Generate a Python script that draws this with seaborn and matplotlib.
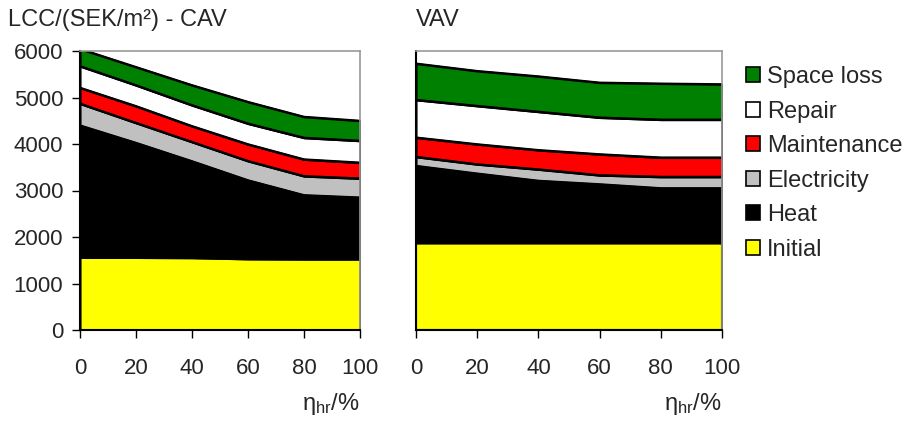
import numpy as np
import pandas as pd
import matplotlib
matplotlib.use("Agg")
import matplotlib.pyplot as plt
import seaborn as sns
from matplotlib.patches import Patch

# ---- data ----
eta = [0, 20, 40, 60, 80, 100]
layers = ["Initial", "Heat", "Electricity", "Maintenance", "Repair", "Space loss"]
colors = ["#ffff00", "#000000", "#c0c0c0", "#ff0000", "#ffffff", "#008000"]

cav_initial = [1560, 1560, 1555, 1530, 1525, 1525]
cav_heat = [2840, 2465, 2075, 1690, 1375, 1325]
cav_elec = [470, 430, 415, 415, 410, 410]
cav_maint = [340, 360, 340, 360, 360, 340]
cav_repair = [465, 450, 450, 445, 465, 470]
cav_space = [370, 390, 430, 465, 450, 430]

vav_initial = [1870, 1870, 1870, 1870, 1870, 1870]
vav_heat = [1660, 1495, 1340, 1265, 1180, 1180]
vav_elec = [195, 200, 245, 195, 245, 245]
vav_maint = [415, 430, 415, 450, 415, 415]
vav_repair = [810, 825, 825, 790, 815, 815]
vav_space = [780, 750, 760, 750, 775, 760]

yticks = [0, 1000, 2000, 3000, 4000, 5000, 6000]
xticks = [0, 20, 40, 60, 80, 100]

sns.set_style("white")
plt.rcParams["font.family"] = ["Liberation Sans", "DejaVu Sans"]
plt.rcParams["mathtext.fontset"] = "custom"
plt.rcParams["mathtext.rm"] = "Liberation Sans"

W, H = 914, 422
fig = plt.figure(figsize=(W / 100, H / 100), dpi=100)

def fr(l, t, r, b):
    return [l / W, 1 - b / H, (r - l) / W, (b - t) / H]

ax1 = fig.add_axes(fr(80, 51, 360, 330))
ax2 = fig.add_axes(fr(416, 51, 722, 330))

def draw(ax, series, showy):
    ax.stackplot(eta, *series, colors=colors, edgecolor="black", linewidth=1.5)
    cum = np.cumsum(np.array(series), axis=0)
    df = pd.DataFrame({"eta": eta * (len(series) - 1),
                       "v": cum[1:].ravel(),
                       "layer": np.repeat(layers[1:], len(eta))})
    sns.lineplot(data=df, x="eta", y="v", units="layer", estimator=None,
                 color="black", linewidth=1.5, ax=ax, legend=False)
    ax.set_xlim(0, 100)
    ax.set_ylim(0, 6000)
    ax.set_xticks(xticks)
    ax.set_yticks(yticks)
    ax.set_xlabel("")
    ax.set_ylabel("")
    for s in ["top", "right"]:
        ax.spines[s].set_color("#999999")
        ax.spines[s].set_linewidth(1.2)
    for s in ["left", "bottom"]:
        ax.spines[s].set_color("black")
        ax.spines[s].set_linewidth(1.5)
    ax.tick_params(axis="x", direction="out", length=6, width=1.0, color="black",
                   labelsize=16, pad=14, bottom=True)
    if showy:
        ax.tick_params(axis="y", direction="out", length=6, width=1.0, color="black",
                       labelsize=16, pad=6, left=True)
    else:
        ax.tick_params(axis="y", left=False, labelleft=False)
    ax.text(1.0, -0.265, r"$\mathrm{\eta_{hr}}$/%", transform=ax.transAxes,
            ha="right", va="center", fontsize=17)

draw(ax1, [cav_initial, cav_heat, cav_elec, cav_maint, cav_repair, cav_space], True)
draw(ax2, [vav_initial, vav_heat, vav_elec, vav_maint, vav_repair, vav_space], False)

fig.text(8 / W, 1 - 20 / H, "LCC/(SEK/m²) - CAV", ha="left", va="center", fontsize=17)
fig.text(416 / W, 1 - 20 / H, "VAV", ha="left", va="center", fontsize=17)

handles = [Patch(facecolor=c, edgecolor="black", linewidth=1.2, label=l)
           for c, l in zip(colors[::-1], layers[::-1])]
fig.legend(handles=handles, loc="upper left", bbox_to_anchor=(746 / W, 1 - 66 / H),
           frameon=False, fontsize=17, handlelength=0.6, handleheight=0.6,
           handletextpad=0.3, labelspacing=0.53, borderpad=0, borderaxespad=0)

fig.savefig("out.png", dpi=100)
